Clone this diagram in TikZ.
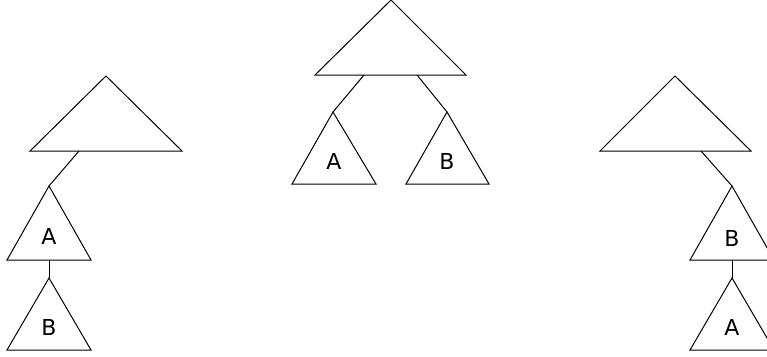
\documentclass[tikz,border=0pt]{standalone}
\usepackage{fontspec}
\setmainfont{DejaVu Sans}
\begin{document}
\begin{tikzpicture}[x=1pt,y=-1pt,line width=1pt,line join=miter,
  lbl/.style={inner sep=0pt,font=\fontsize{22}{26}\selectfont}]
\useasboundingbox (0,0) rectangle (767,356);
% ---- left tree
\coordinate (L0) at (106,76);
\coordinate (L0a) at (30,151); \coordinate (L0b) at (182,151);
\coordinate (L0c) at (79,151);
\coordinate (LA) at (49,186); \coordinate (LAa) at (7,260); \coordinate (LAb) at (91,260);
\coordinate (LB) at (49,278); \coordinate (LBa) at (7,350); \coordinate (LBb) at (91,350);
\draw (L0a) -- (L0) -- (L0b) -- cycle;
\draw (LAa) -- (LA) -- (LAb) -- cycle;
\draw (LBa) -- (LB) -- (LBb) -- cycle;
\draw (L0c) -- (LA);
\coordinate (LAm) at (49,260);
\draw (LAm) -- (LB);
\node[lbl] (la) at (49,236) {A};
\node[lbl] (lb) at (49,327) {B};
% ---- middle tree
\coordinate (M0) at (391,0);
\coordinate (M0a) at (315,75); \coordinate (M0b) at (466,75);
\coordinate (M0l) at (364,75); \coordinate (M0r) at (417,75);
\coordinate (MA) at (333,112); \coordinate (MAa) at (292,184); \coordinate (MAb) at (376,184);
\coordinate (MB) at (447,112); \coordinate (MBa) at (406,184); \coordinate (MBb) at (489,184);
\draw (M0a) -- (M0) -- (M0b) -- cycle;
\draw (MAa) -- (MA) -- (MAb) -- cycle;
\draw (MBa) -- (MB) -- (MBb) -- cycle;
\draw (M0l) -- (MA);
\draw (M0r) -- (MB);
\node[lbl] (ma) at (334,161) {A};
\node[lbl] (mb) at (447,161) {B};
% ---- right tree
\coordinate (R0) at (675,76);
\coordinate (R0a) at (600,151); \coordinate (R0b) at (751,151);
\coordinate (R0c) at (701,151);
\coordinate (RB) at (732,186); \coordinate (RBa) at (690,260); \coordinate (RBb) at (774,260);
\coordinate (RA) at (732,278); \coordinate (RAa) at (690,350); \coordinate (RAb) at (774,350);
\draw (R0a) -- (R0) -- (R0b) -- cycle;
\draw (RBa) -- (RB) -- (RBb) -- cycle;
\draw (RAa) -- (RA) -- (RAb) -- cycle;
\draw (R0c) -- (RB);
\coordinate (RBm) at (732,260);
\draw (RBm) -- (RA);
\node[lbl] (rb) at (732,238) {B};
\node[lbl] (ra) at (732,327) {A};
\end{tikzpicture}
\end{document}
